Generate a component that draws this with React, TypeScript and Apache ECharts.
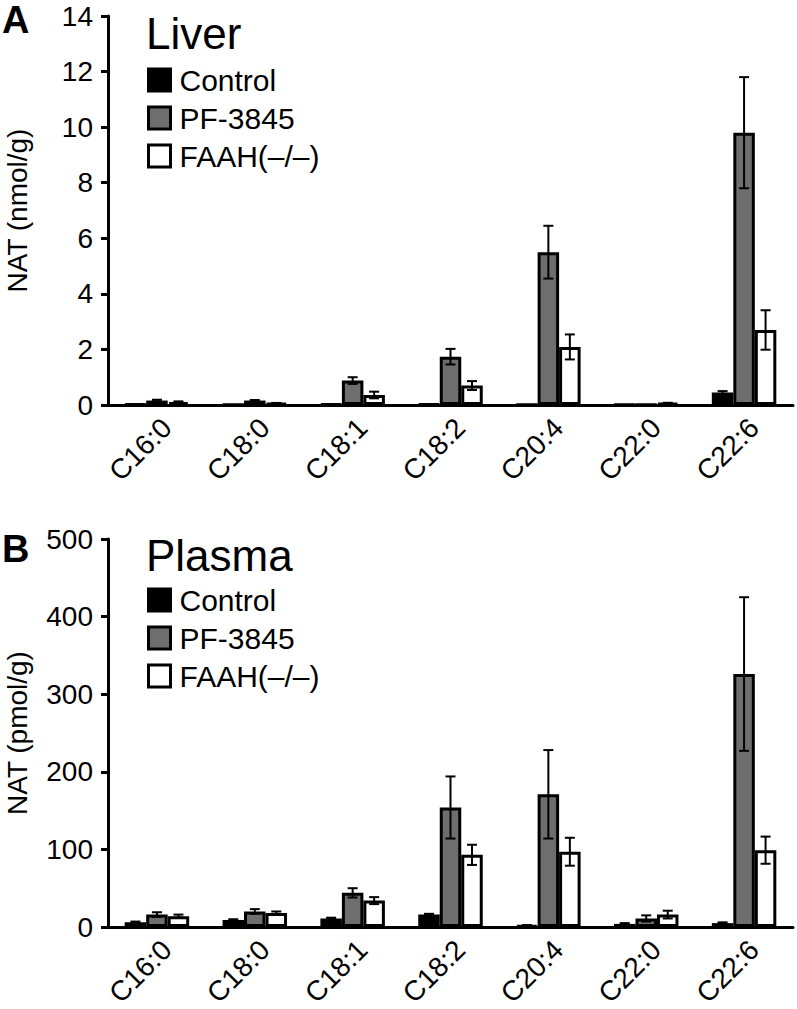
import React, { useEffect, useRef } from "react";
import * as echarts from "echarts";

const categories = ["C16:0", "C18:0", "C18:1", "C18:2", "C20:4", "C22:0", "C22:6"];
const seriesNames = ["Control", "PF-3845", "FAAH(–/–)"];

const liverControl = [0.03, 0.01, 0.03, 0.03, 0.01, 0.01, 0.45];
const liverControlErr = [0, 0, 0, 0, 0, 0, 0.05];
const liverPF = [0.16, 0.16, 0.88, 1.74, 5.5, 0.02, 9.8];
const liverPFErr = [0.03, 0.02, 0.12, 0.28, 0.95, 0, 2.0];
const liverFAAH = [0.1, 0.065, 0.36, 0.7, 2.09, 0.07, 2.7];
const liverFAAHErr = [0.03, 0.01, 0.12, 0.16, 0.45, 0.01, 0.71];

const plasmaControl = [6, 9, 11, 16, 2, 4, 5];
const plasmaControlErr = [1, 1, 1, 1, 0.5, 1, 1];
const plasmaPF = [16, 20, 44, 154, 171, 11, 326];
const plasmaPFErr = [3, 3, 6, 40, 57, 4, 99];
const plasmaFAAH = [14, 18, 34, 93, 97, 16, 99];
const plasmaFAAHErr = [2, 2, 4.5, 13, 18, 5, 17.5];

const liverTicks = { min: 0, max: 14, interval: 2 };
const plasmaTicks = { min: 0, max: 500, interval: 100 };

const FONT = "'Liberation Sans', Arial, Helvetica, sans-serif";
const COLORS = ["#000000", "#6e6e6e", "#ffffff"];
const BAR_W = 21.5;

function barSeries(gi: number, si: number, values: number[]) {
  return {
    type: "bar",
    name: seriesNames[si],
    xAxisIndex: gi,
    yAxisIndex: gi,
    data: values,
    barWidth: BAR_W,
    barGap: "0%",
    itemStyle: { color: COLORS[si], borderColor: "#000", borderWidth: 3 },
    z: 2,
  };
}

function errSeries(gi: number, si: number, values: number[], errs: number[]) {
  const off = (si - 1) * BAR_W;
  return {
    type: "custom",
    xAxisIndex: gi,
    yAxisIndex: gi,
    silent: true,
    z: 10,
    data: values.map((v, i) => [i, v, errs[i]]),
    renderItem: (params: any, api: any) => {
      const i = api.value(0);
      const v = api.value(1);
      const e = api.value(2);
      if (!e) return { type: "group", children: [] };
      const c = api.coord([i, v]);
      const t = api.coord([i, v + e]);
      const b = api.coord([i, Math.max(0, v - e)]);
      const x = c[0] + off;
      const cap = 5;
      const style = { stroke: "#000", lineWidth: 2 };
      return {
        type: "group",
        children: [
          { type: "line", shape: { x1: x, y1: t[1], x2: x, y2: b[1] }, style },
          { type: "line", shape: { x1: x - cap, y1: t[1], x2: x + cap, y2: t[1] }, style },
          { type: "line", shape: { x1: x - cap, y1: b[1], x2: x + cap, y2: b[1] }, style },
        ],
      };
    },
  };
}

function xAxis(gi: number) {
  return {
    type: "category",
    gridIndex: gi,
    data: categories,
    axisLine: { lineStyle: { color: "#000", width: 3 } },
    axisTick: { length: 7, lineStyle: { color: "#000", width: 3 } },
    axisLabel: {
      rotate: 45,
      interval: 0,
      margin: 8,
      align: "right",
      verticalAlign: "top",
      fontSize: 28,
      color: "#000",
      fontFamily: FONT,
    },
  };
}

function yAxis(gi: number, name: string, ticks: any) {
  return {
    type: "value",
    gridIndex: gi,
    min: ticks.min,
    max: ticks.max,
    interval: ticks.interval,
    name,
    nameLocation: "middle",
    nameGap: 77,
    nameTextStyle: { fontSize: 28, color: "#000", fontFamily: FONT },
    axisLine: { show: true, lineStyle: { color: "#000", width: 3 } },
    axisTick: { show: true, length: 7, lineStyle: { color: "#000", width: 3 } },
    axisLabel: { fontSize: 28, color: "#000", margin: 15, fontFamily: FONT },
    splitLine: { show: false },
  };
}

function legend(top: number) {
  return {
    data: seriesNames,
    orient: "vertical",
    left: 142,
    top,
    icon: "rect",
    itemWidth: 22,
    itemHeight: 22,
    itemGap: 8,
    selectedMode: false,
    itemStyle: { borderColor: "#000", borderWidth: 3 },
    textStyle: { fontSize: 30, color: "#000", fontFamily: FONT, padding: [0, 0, 0, 4] },
  };
}

export default function App() {
  const ref = useRef<HTMLDivElement>(null);
  useEffect(() => {
    if (!ref.current) return;
    const chart = echarts.init(ref.current, null, { renderer: "svg" });
    chart.setOption({
      animation: false,
      backgroundColor: "#fff",
      textStyle: { fontFamily: FONT },
      title: [
        { text: "Liver", left: 146, top: 11, padding: 0, textStyle: { fontSize: 44, fontWeight: "normal", color: "#000", fontFamily: FONT } },
        { text: "Plasma", left: 146, top: 533, padding: 0, textStyle: { fontSize: 44, fontWeight: "normal", color: "#000", fontFamily: FONT } },
      ],
      legend: [legend(60), legend(580)],
      graphic: [
        { type: "text", left: 2, top: 1, style: { text: "A", fontSize: 38, fontWeight: "bold", fill: "#000", fontFamily: FONT } },
        { type: "text", left: 2, top: 530, style: { text: "B", fontSize: 38, fontWeight: "bold", fill: "#000", fontFamily: FONT } },
      ],
      grid: [
        { left: 108, top: 16, width: 685, height: 389, outerBoundsMode: "none" },
        { left: 108, top: 539, width: 685, height: 388, outerBoundsMode: "none" },
      ],
      xAxis: [xAxis(0), xAxis(1)],
      yAxis: [yAxis(0, "NAT (nmol/g)", liverTicks), yAxis(1, "NAT (pmol/g)", plasmaTicks)],
      series: [
        barSeries(0, 0, liverControl),
        barSeries(0, 1, liverPF),
        barSeries(0, 2, liverFAAH),
        errSeries(0, 0, liverControl, liverControlErr),
        errSeries(0, 1, liverPF, liverPFErr),
        errSeries(0, 2, liverFAAH, liverFAAHErr),
        barSeries(1, 0, plasmaControl),
        barSeries(1, 1, plasmaPF),
        barSeries(1, 2, plasmaFAAH),
        errSeries(1, 0, plasmaControl, plasmaControlErr),
        errSeries(1, 1, plasmaPF, plasmaPFErr),
        errSeries(1, 2, plasmaFAAH, plasmaFAAHErr),
      ],
    });
    return () => chart.dispose();
  }, []);
  return <div ref={ref} style={{ position: "fixed", left: 0, top: 0, width: 797, height: 1009, background: "#fff" }} />;
}
